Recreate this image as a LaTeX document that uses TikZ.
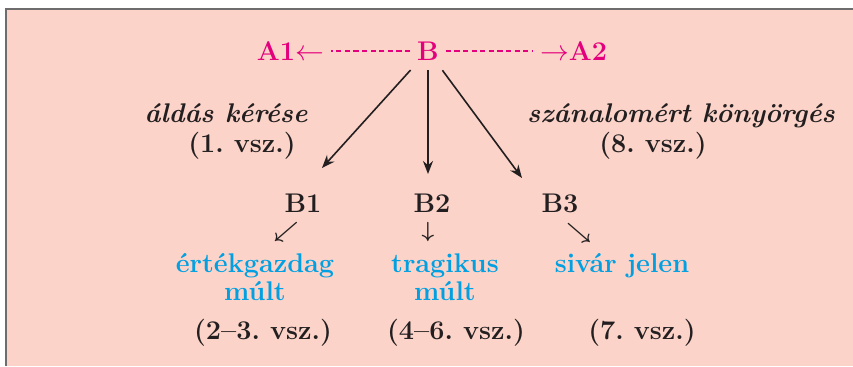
\documentclass[tikz,border=0pt]{standalone}
\usepackage{tikz}
\usetikzlibrary{arrows.meta}
\definecolor{obg}{RGB}{251,211,200}
\definecolor{oframe}{RGB}{110,108,108}
\definecolor{omag}{RGB}{228,0,124}
\definecolor{ocyan}{RGB}{0,160,227}
\definecolor{otext}{RGB}{35,31,32}
\frenchspacing
\newcommand\bigbf{\fontsize{13.5}{14}\selectfont\bfseries}
\tikzset{
  mag/.style ={text=omag, font=\bigbf, anchor=base},
  lbl/.style ={text=otext, font=\bigbf\itshape, anchor=base},
  vsz/.style ={text=otext, font=\bigbf, anchor=base},
  sub/.style ={text=otext, font=\bigbf, anchor=base},
  val/.style ={text=ocyan, font=\bigbf, align=center, anchor=base},
  sar/.style ={text=otext, font=\fontsize{11}{12}\selectfont\boldmath},
  ar/.style  ={-{Stealth[length=6.5pt,width=5pt]}, draw=otext, line width=0.8pt},
  dsh/.style ={draw=omag, line width=1pt, dash pattern=on 2.6pt off 1.7pt}
}
\begin{document}
\begin{tikzpicture}[x=0.5pt,y=-0.5pt]
\useasboundingbox (0,0) rectangle (853,366);
\fill[obg] (6,9) rectangle (853,366);
\draw[oframe, line width=1pt] (6,366) -- (6,9) -- (853,9);

\node[mag, anchor=base east] (A1) at (331,60) {A1$\leftarrow$};
\node[mag] (B) at (428,60) {B};
\node[mag, anchor=base west] (A2) at (533,60) {$\rightarrow$A2};
\draw[dsh] (B.west) -- (B.west -| A1.east);
\draw[dsh] (B.east) -- (B.east -| A2.west);

\node[lbl] (ask) at (226,122) {áldás kérése};
\node[vsz] (ask1) at (242,152) {(1. vsz.)};
\node[lbl] (plea) at (681,122) {szánalomért könyörgés};
\node[vsz] (plea8) at (653,152) {(8. vsz.)};

\node[sub] (B1) at (303,212) {B1};
\node[sub] (B2) at (432,212) {B2};
\node[sub] (B3) at (560,212) {B3};
\coordinate (e1) at (322,168);
\coordinate (e2) at (428,174);
\coordinate (e3) at (522,178);
\draw[ar, shorten <=2pt] (B) -- (e1);
\draw[ar, shorten <=1.5pt] (B) -- (e2);
\draw[ar, shorten <=2pt] (B) -- (e3);

\node[sar] (s1) at (286,232) {$\swarrow$};
\node[sar] (s2) at (428,232) {$\downarrow$};
\node[sar] (s3) at (579,233) {$\searrow$};

\node[val] (V1) at (255,300) {értékgazdag\\múlt};
\node[val] (V2) at (445,300) {tragikus\\múlt};
\node[val] (V3) at (622,272) {sivár jelen};

\node[vsz] (r1) at (263,339) {(2--3. vsz.)};
\node[vsz] (r2) at (456,339) {(4--6. vsz.)};
\node[vsz] (r3) at (642,339) {(7. vsz.)};
\end{tikzpicture}
\end{document}
